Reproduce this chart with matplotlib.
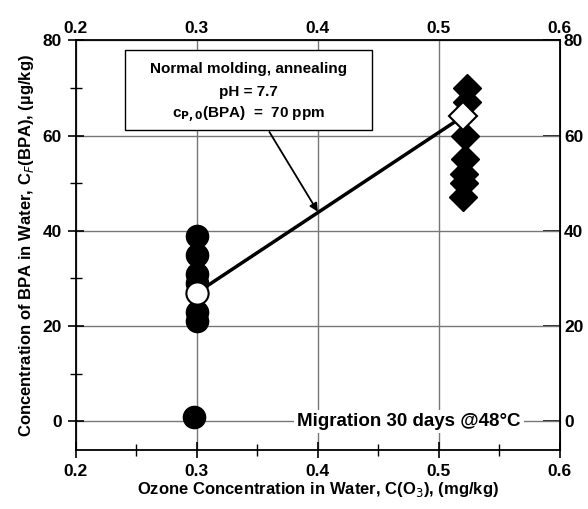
import matplotlib.pyplot as plt
from matplotlib.patches import Rectangle
from matplotlib.ticker import MultipleLocator

plt.rcParams['font.family'] = ['Liberation Sans', 'DejaVu Sans']

# measured points, C(O3) vs C_F(BPA)
x_low = [0.300, 0.300, 0.300, 0.300, 0.300, 0.300, 0.298]
y_low = [39, 35, 31, 29, 23, 21, 1]
x_high = [0.523, 0.523, 0.522, 0.522, 0.521, 0.521, 0.520]
y_high = [70, 67, 60, 55, 52, 50, 47]
# averages
x_mean = [0.300, 0.520]
y_mean = [27, 64]

fig = plt.figure(figsize=(5.88, 5.09), dpi=100)
ax = fig.add_axes([0.129, 0.116, 0.823, 0.805])

ax.plot(x_low, y_low, 'o', color='black', markersize=16, zorder=3)
ax.plot(x_high, y_high, 'D', color='black', markersize=14, zorder=3)
ax.plot(x_mean, y_mean, '-', color='black', lw=2.5, zorder=4)
ax.plot(x_mean[:1], y_mean[:1], 'o', mfc='white', mec='black', mew=1.5, markersize=16, zorder=5)
ax.plot(x_mean[1:], y_mean[1:], 'D', mfc='white', mec='black', mew=1.5, markersize=14, zorder=5)

ax.set_xlim(0.2, 0.6)
ax.set_ylim(-6, 80)
ax.xaxis.set_major_locator(MultipleLocator(0.1))
ax.xaxis.set_minor_locator(MultipleLocator(0.05))
ax.yaxis.set_major_locator(MultipleLocator(20))
ax.yaxis.set_minor_locator(MultipleLocator(10))
ax.grid(True, which='major', color='#777777', lw=1)
ax.tick_params(which='major', direction='inout', length=12, width=1.2,
               labelsize=12.5, pad=4)
ax.tick_params(which='minor', direction='inout', length=8, width=1)
for lab in ax.get_xticklabels() + ax.get_yticklabels():
    lab.set_fontweight('bold')
for sp in ax.spines.values():
    sp.set_linewidth(1.3)

top = ax.secondary_xaxis('top')
top.xaxis.set_major_locator(MultipleLocator(0.1))
top.tick_params(length=0, labelsize=12.5, pad=3)
for lab in top.get_xticklabels():
    lab.set_fontweight('bold')
top.spines['top'].set_visible(False)

right = ax.secondary_yaxis('right')
right.yaxis.set_major_locator(MultipleLocator(20))
right.tick_params(direction='in', length=12, width=1.2, labelsize=12.5, pad=3)
for lab in right.get_yticklabels():
    lab.set_fontweight('bold')

ax.set_xlabel('Ozone Concentration in Water, C(O$_3$), (mg/kg)',
              fontsize=12, fontweight='bold', labelpad=1)
ax.set_ylabel('Concentration of BPA in Water, C$_F$(BPA), (µg/kg)',
              fontsize=12, fontweight='bold', labelpad=5)

ax.add_patch(Rectangle((0.101, 0.78), 0.511, 0.196, transform=ax.transAxes,
                       facecolor='white', edgecolor='black', lw=1, zorder=6))
box_x = 0.356
ax.text(box_x, 0.93, 'Normal molding, annealing', transform=ax.transAxes,
        ha='center', va='center', fontsize=11, fontweight='bold', zorder=7)
ax.text(box_x, 0.873, 'pH = 7.7', transform=ax.transAxes,
        ha='center', va='center', fontsize=11, fontweight='bold', zorder=7)
ax.text(box_x, 0.818, 'c$_{\\mathbf{P,0}}$(BPA)  =  70 ppm', transform=ax.transAxes,
        ha='center', va='center', fontsize=11, fontweight='bold', zorder=7)
ax.annotate('', xy=(0.4, 44), xytext=(0.40, 0.776), textcoords='axes fraction',
            arrowprops=dict(arrowstyle='-|>', color='black', lw=1.3,
                            mutation_scale=12, shrinkA=0, shrinkB=0), zorder=7)

ax.text(0.383, 0, 'Migration 30 days @48°C', ha='left', va='center',
        fontsize=13.5, fontweight='bold', zorder=6,
        bbox=dict(facecolor='white', edgecolor='none', pad=2))

fig.savefig('out.png', dpi=100)
